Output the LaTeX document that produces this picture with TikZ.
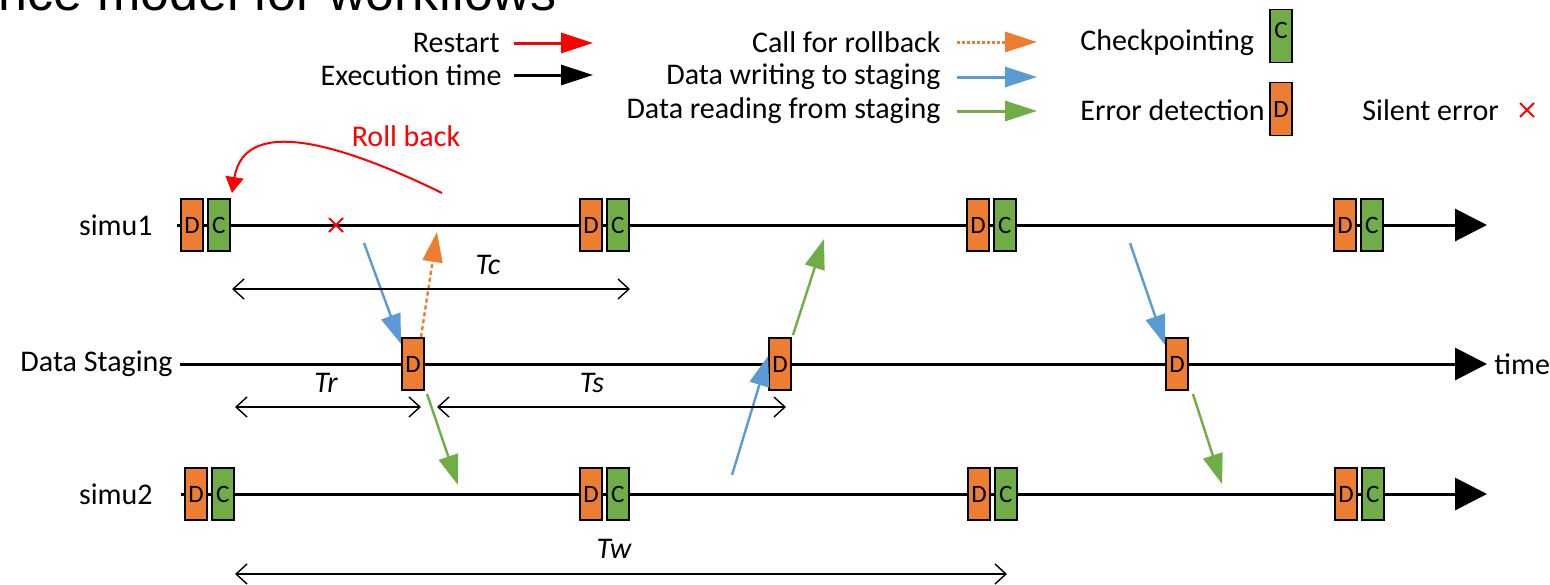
\documentclass[tikz,border=0pt]{standalone}
\usepackage{fontspec}
\setmainfont{Carlito}
\newfontfamily\titlefont{Liberation Sans}
\usepackage{xcolor}
\usepackage{tikz}
\usetikzlibrary{arrows.meta, positioning, shapes.misc}
\definecolor{dorange}{HTML}{ED7D31}
\definecolor{cgreen}{HTML}{70AD47}
\definecolor{wblue}{HTML}{5B9BD5}

\begin{document}
\begin{tikzpicture}[
  x=0.5pt, y=-0.5pt,
  lbl/.style={font=\fontsize{15}{18}\selectfont, inner sep=0pt},
  tlbl/.style={inner sep=0pt, font=\fontsize{15}{18}\selectfont\itshape},
  dbox/.style={rectangle, draw=black, line width=0.9pt, fill=dorange,
               minimum width=11pt, minimum height=26pt, inner sep=0pt,
               font=\fontsize{12.5}{13}\selectfont},
  cbox/.style={dbox, fill=cgreen},
  axis/.style={line width=1.5pt, -{Triangle[length=16pt, width=16pt]}},
  writearr/.style={line width=1.2pt, draw=wblue, fill=wblue, -{Triangle[length=15pt, width=10pt]}},
  readarr/.style={line width=1.2pt, draw=cgreen, fill=cgreen, -{Triangle[length=15pt, width=10pt]}},
  callarr/.style={line width=1.2pt, draw=dorange, fill=dorange, dash pattern=on 2pt off 1.5pt,
                  -{Triangle[length=15pt, width=10pt]}},
  span/.style={line width=0.7pt, {Straight Barb[length=5.5pt, width=10pt]}-{Straight Barb[length=5.5pt, width=10pt]}},
  legarr/.style={line width=1.5pt, -{Triangle[length=16pt, width=10pt]}},
  errmark/.style={cross out, draw=red, line width=1pt, minimum size=6pt, inner sep=0pt}
]
\useasboundingbox (0,0) rectangle (1550,584);
\clip (0,0) rectangle (1550,584);

\node[font=\titlefont\fontsize{26}{30}\selectfont, anchor=base east, inner sep=0pt] (title) at (557,10) {Performance model for workflows};

\node[lbl, anchor=east] (lrestart) at (500,43) {Restart};
\node[lbl, anchor=east] (lexec) at (502,75) {Execution time};
\node[lbl, anchor=east] (lcall) at (941,42) {Call for rollback};
\node[lbl, anchor=east] (lwrite) at (941,77) {Data writing to staging};
\node[lbl, anchor=east] (lread) at (941,111) {Data reading from staging};
\node[lbl, anchor=west] (lckpt) at (1080,43) {Checkpointing};
\node[lbl, anchor=west] (ldetect) at (1080,110) {Error detection};
\node[lbl, anchor=west] (lsilent) at (1362,110) {Silent error};
\node[cbox, minimum height=26.5pt] (legc) at (1281,36) {\raisebox{6pt}{C}};
\node[dbox, minimum height=26.5pt] (legd) at (1281,109) {D};
\node[errmark] (legerr) at (1527,110) {};

\draw[legarr, red] ([xshift=7pt]lrestart.east) -- ([xshift=46.5pt]lrestart.east);
\draw[legarr, black] ([xshift=6pt]lexec.east) -- ([xshift=45.5pt]lexec.east);
\draw[legarr, dorange, dash pattern=on 1.5pt off 1pt] ([xshift=8pt]lcall.east) -- ([xshift=48pt]lcall.east);
\draw[legarr, wblue] ([xshift=8pt]lwrite.east) -- ([xshift=48pt]lwrite.east);
\draw[legarr, cgreen] ([xshift=8pt]lread.east) -- ([xshift=48pt]lread.east);

\node[lbl, anchor=east] (simu1) at (153,225) {simu1};
\node[lbl, anchor=east] (staging) at (173,364) {Data Staging};
\node[lbl, anchor=east] (simu2) at (153,494) {simu2};
\node[lbl, anchor=west] (timelbl) at (1494,364) {time};

\draw[axis] ([xshift=12pt]simu1.east) -- ([xshift=-3.5pt]timelbl.west |- simu1.east);
\draw[axis] ([xshift=3.5pt]staging.east) -- ([xshift=-3.5pt]timelbl.west);
\draw[axis] ([xshift=14pt]simu2.east) -- ([xshift=-3.5pt]timelbl.west |- simu2.east);

\node[dbox] (s1d1) at (192,225) {D};
\node[cbox, right=1.5pt of s1d1] (s1c1) {C};
\node[dbox] (s1d2) at (591,225) {D};
\node[cbox, right=1.5pt of s1d2] (s1c2) {C};
\node[dbox] (s1d3) at (978,225) {D};
\node[cbox, right=1.5pt of s1d3] (s1c3) {C};
\node[dbox] (s1d4) at (1345,225) {D};
\node[cbox, right=1.5pt of s1d4] (s1c4) {C};

\node[dbox] (sd1) at (413,364) {D};
\node[dbox] (sd2) at (780,364) {D};
\node[dbox] (sd3) at (1177,364) {D};

\node[dbox] (s2d1) at (196,494) {D};
\node[cbox, right=1.5pt of s2d1] (s2c1) {C};
\node[dbox] (s2d2) at (591,494) {D};
\node[cbox, right=1.5pt of s2d2] (s2c2) {C};
\node[dbox] (s2d3) at (979,494) {D};
\node[cbox, right=1.5pt of s2d3] (s2c3) {C};
\node[dbox] (s2d4) at (1346,494) {D};
\node[cbox, right=1.5pt of s2d4] (s2c4) {C};

\node[errmark] (err) at (336,225) {};

\coordinate (rbstart) at (442,193);
\coordinate (rbend) at (232,193);
\draw[red, line width=1pt, -{Triangle[length=8pt, width=9pt]}] (rbstart) .. controls (350,148) and (245,112) .. (rbend);
\node[lbl, text=red] (rblbl) at (406,136) {Roll back};

\coordinate (w1) at (364,243);
\coordinate (w2) at (732,475);
\coordinate (w3) at (1130,243);
\coordinate (c1) at (437,232);
\coordinate (r1) at (458,485);
\coordinate (r2) at (824,239);
\coordinate (r3) at (1222,484);

\draw[writearr] (w1) -- ([yshift=-3.5pt]sd1.north west);
\draw[callarr] ([xshift=4pt]sd1.north) -- (c1);
\draw[readarr] ([xshift=7pt, yshift=-1.5pt]sd1.south) -- (r1);
\draw[writearr] (w2) -- ([yshift=4pt]sd2.west);
\draw[readarr] ([xshift=0.5pt, yshift=1pt]sd2.north east) -- (r2);
\draw[writearr] (w3) -- ([yshift=-4pt]sd3.north west);
\draw[readarr] ([xshift=2pt, yshift=-1.5pt]sd3.south east) -- (r3);

\coordinate (tcL) at (232,289);
\coordinate (tcR) at (630,289);
\coordinate (trL) at (235,407);
\coordinate (trR) at (421,407);
\coordinate (tsL) at (437,407);
\coordinate (tsR) at (786,407);
\coordinate (twL) at (235,574);
\coordinate (twR) at (1007,574);

\draw[span] (tcL) -- (tcR);
\draw[span] (trL) -- (trR);
\draw[span] (tsL) -- (tsR);
\draw[span] (twL) -- (twR);
\node[tlbl] (tc) at (488,265) {Tc};
\node[tlbl] (tr) at (326,383) {Tr};
\node[tlbl] (ts) at (592,383) {Ts};
\node[tlbl] (tw) at (614,549) {Tw};

\end{tikzpicture}
\end{document}
